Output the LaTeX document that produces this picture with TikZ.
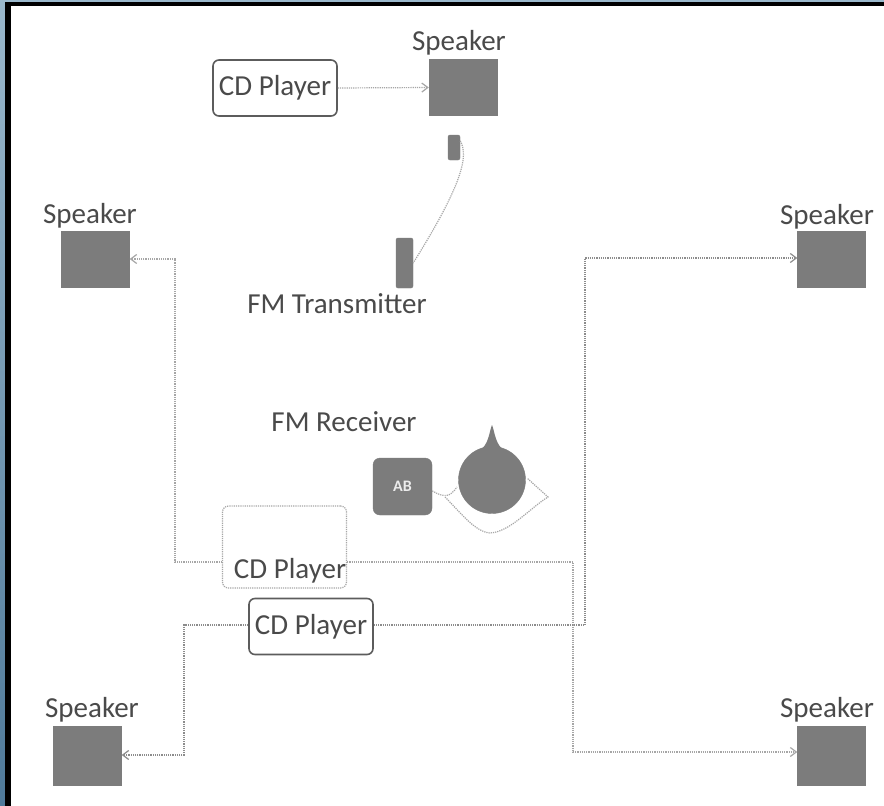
\documentclass[tikz,border=0pt]{standalone}
\usepackage{fontspec}
\setmainfont{Carlito}
\usetikzlibrary{arrows.meta}
\definecolor{framebk}{HTML}{000000}
\definecolor{frameblue}{HTML}{9AB8CC}
\definecolor{framedeep}{HTML}{4F7A9A}
\definecolor{inkgray}{HTML}{4A4A4A}
\definecolor{boxgray}{HTML}{7C7C7C}
\definecolor{wiregray}{HTML}{A6A6A6}
\tikzset{
  lbl/.style={text=inkgray,font=\fontsize{29}{30}\selectfont,inner sep=0pt},
  spk/.style={fill=boxgray,draw=boxgray,minimum width=68pt,minimum height=56pt,inner sep=0pt},
  cdbox/.style={draw=inkgray!90,line width=1.6pt,rounded corners=6pt,fill=white,minimum width=124pt,minimum height=56pt,inner sep=0pt,text=inkgray,font=\fontsize{29}{30}\selectfont},
  ghost/.style={draw=wiregray,line width=1.2pt,densely dotted,rounded corners=6pt,minimum width=124pt,minimum height=82pt,inner sep=0pt},
  wire/.style={draw=wiregray,line width=1.2pt,densely dotted},
  darkwire/.style={draw=gray!90,line width=1.2pt,densely dotted},
  arr/.style={-{Straight Barb[length=6pt,width=9pt]}},
  dev/.style={fill=boxgray,draw=boxgray,rounded corners=2pt,inner sep=0pt}
}
\begin{document}
\begin{tikzpicture}[x=1pt,y=-1pt]
\useasboundingbox (0,0) rectangle (884,806);
\fill[white] (0,0) rectangle (884,806);
\shade[top color=frameblue,bottom color=framedeep] (0,0) rectangle (5,806);
\fill[frameblue] (0,0) rectangle (884,1.5);
\fill[framebk] (5,1.5) rectangle (884,6);
\fill[framebk] (5,1.5) rectangle (10.5,806);

% top group
\node[cdbox] (cdtop) at (275,88) {CD Player};
\node[spk] (spktop) at (463,87.5) {};
\node[lbl] (spktoplbl) at (459,43) {Speaker};
\node[dev,minimum width=12pt,minimum height=25pt] (txsmall) at (454,147.5) {};
\node[dev,minimum width=17pt,minimum height=50pt] (txbig) at (404.5,263) {};
\node[lbl] (txlbl) at (337,304) {FM Transmitter};
\draw[wire,arr] (cdtop.east) -- (spktop.west);
\draw[wire] (txsmall.north east) ++(0,6) coordinate (cs) (cs) .. controls (469,156) and (462,185) .. (txbig.east);

% speakers
\node[spk] (spkl) at (95.5,259.5) {};
\node[lbl] (spkllbl) at (90,216) {Speaker};
\node[spk] (spkr) at (831.5,259.5) {};
\node[lbl] (spkrlbl) at (827,217) {Speaker};
\node[spk,minimum height=59pt] (spkbl) at (87.5,755.5) {};
\node[lbl] (spkbllbl) at (92,710) {Speaker};
\node[spk,minimum height=59pt] (spkbr) at (831.5,755.5) {};
\node[lbl] (spkbrlbl) at (827,710) {Speaker};

% receiver
\node[lbl] (rxlbl) at (344,422) {FM Receiver};
\node[dev,rounded corners=7pt,minimum width=59pt,minimum height=57pt] (ab) at (402.5,486.5) {};
\node[font=\bfseries\fontsize{16}{17}\selectfont,text=white!85!gray,inner sep=0pt] (abtxt) at (ab.center) {AB};
\node[circle,fill=boxgray,draw=boxgray,minimum size=67pt,inner sep=0pt] (knob) at (492,480) {};
\coordinate (anttip) at (492,425);
\fill[boxgray] (anttip) .. controls (495,432) and (495,445) .. (505,451) -- (479,451) .. controls (489,445) and (489,432) .. (anttip) -- cycle;
\coordinate (loopa) at (436,491);
\coordinate (loopb) at (527,478);
\draw[wire] (ab.east |- loopa) .. controls (445,498) and (450,497) .. (457,487);
\draw[wire] (445,497) .. controls (460,512) and (475,532) .. (490,533)
   .. controls (510,532) and (530,508) .. (548,497) -- (loopb);

% lower wiring
\node[ghost] (cdg) at (284.5,547) {};
\node[lbl] (cdglbl) at (290,571) {CD Player};
\node[cdbox] (cdb) at (311,626.5) {CD Player};
\coordinate (g1) at (175,562);
\coordinate (g2) at (175,259);
\coordinate (g3) at (573,562);
\coordinate (g4) at (573,752);
\coordinate (b1) at (184,625);
\coordinate (b2) at (184,755);
\coordinate (b3) at (585,625);
\coordinate (b4) at (585,258);
\draw[wire,arr] (cdg.west |- g1) -- (g1) -- (g2) -- (spkl.east |- g2);
\draw[wire,arr] (cdg.east |- g3) -- (g3) -- (g4) -- (spkbr.west |- g4);
\draw[darkwire,arr] (cdb.west |- b1) -- (b1) -- (b2) -- (spkbl.east |- b2);
\draw[darkwire,arr] (cdb.east |- b3) -- (b3) -- (b4) -- (spkr.west |- b4);
\end{tikzpicture}
\end{document}
